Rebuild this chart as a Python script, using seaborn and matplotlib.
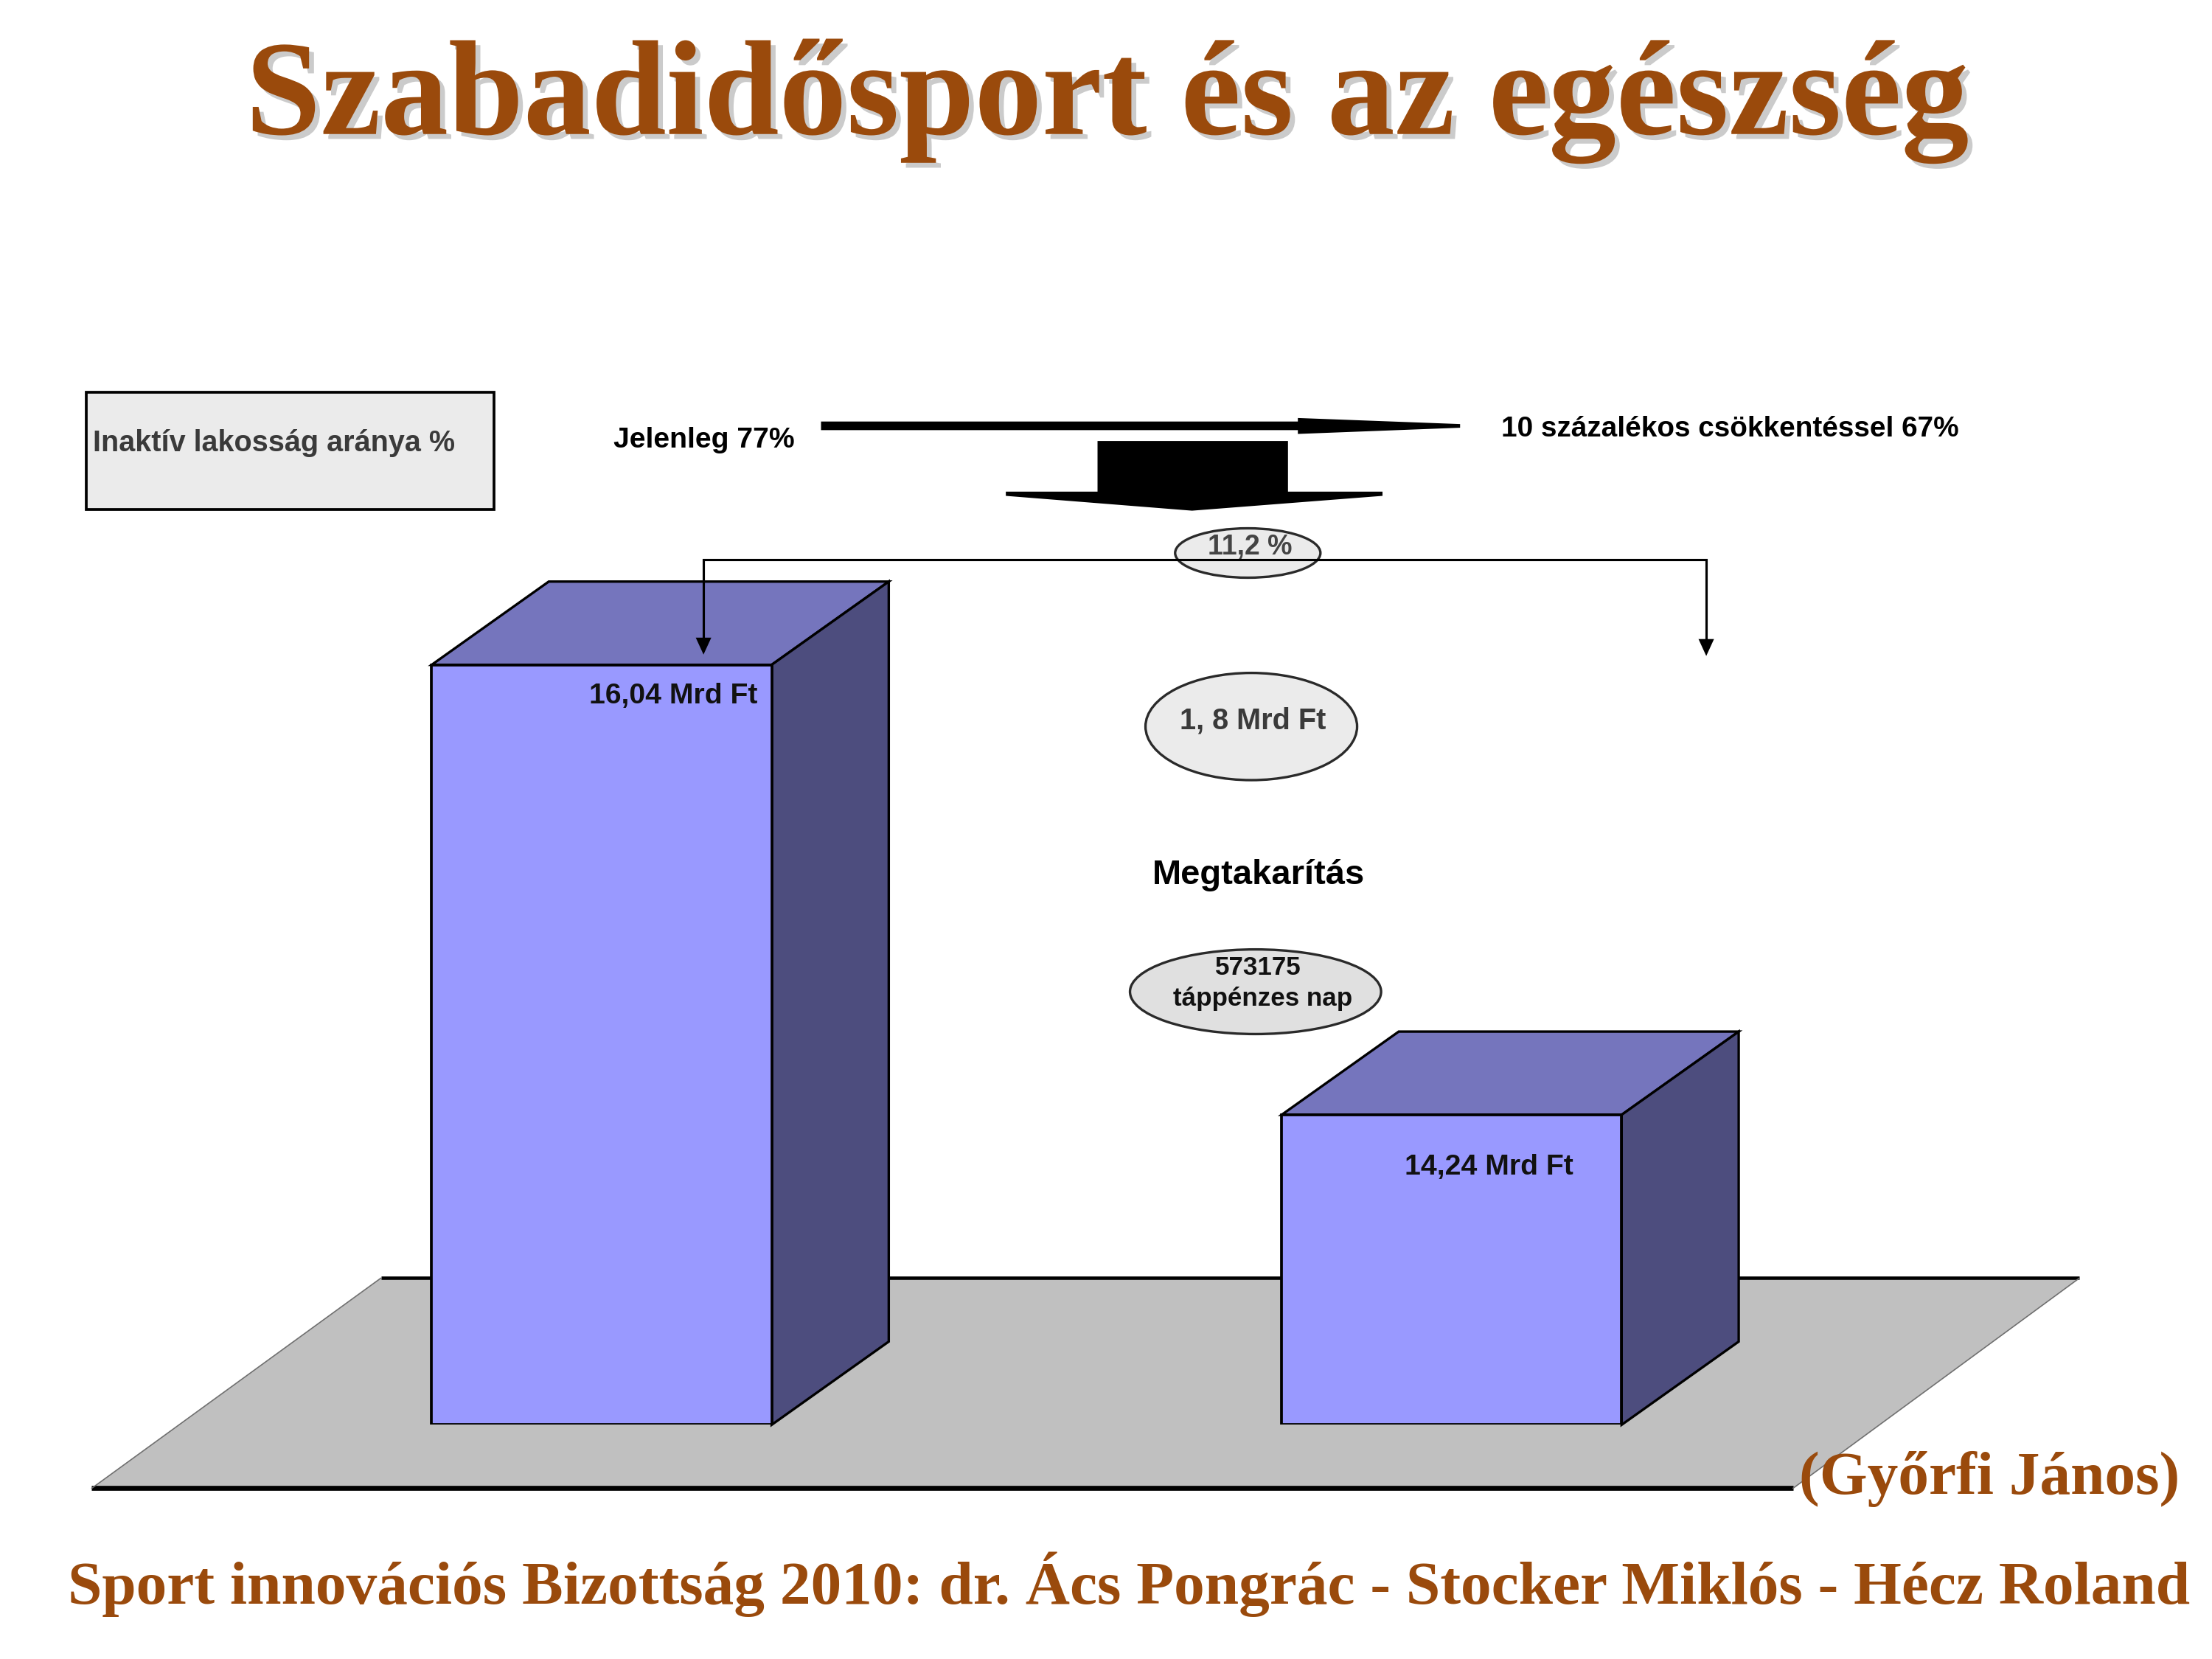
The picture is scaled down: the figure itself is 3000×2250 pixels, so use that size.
import matplotlib
matplotlib.use("Agg")
import matplotlib.pyplot as plt
import matplotlib.patches as mpatches
import matplotlib.patheffects as pe
import pandas as pd
import seaborn as sns

# ---- data -------------------------------------------------------------
scenarios = ["Jelenleg", "10 százalékos csökkentéssel"]
costs_mrd_ft = [16.04, 14.24]          # health cost, billion HUF
inactive_share = [77, 67]              # share of inactive population, %
saving_mrd_ft = 1.8
saving_pct = 11.2
sick_leave_days = 573175

title_text = "Szabadidősport és az egészség"
legend_text = "Inaktív lakosság aránya %"
saving_text = "Megtakarítás"
sick_leave_text = "táppénzes nap"
author_text = "(Győrfi János)"
footer_text = ("Sport innovációs Bizottság 2010: dr. Ács Pongrác - "
               "Stocker Miklós - Hécz Roland")

# ---- style ------------------------------------------------------------
sns.set_theme(style="white")
plt.rcParams["font.family"] = ["Liberation Sans", "DejaVu Sans"]
SERIF = ["Liberation Serif", "DejaVu Serif"]
BROWN = "#9A4A0C"
FRONT, TOP, SIDE = "#9999FF", "#7575BD", "#4D4D7E"
FLOOR = "#C0C0C0"

W, H = 1568, 1176                      # canvas units
fig = plt.figure(figsize=(10, 7.5), dpi=300)


def canvas_axes(z):
    ax = fig.add_axes([0, 0, 1, 1], zorder=z)
    ax.set_xlim(0, W)
    ax.set_ylim(H, 0)
    ax.axis("off")
    ax.patch.set_visible(False)
    return ax


ax_back = canvas_axes(0)

# chart axes: value axis starts at 13 Mrd Ft
AXIS_FLOOR, AXIS_TOP = 13.0, 16.5
px_per_unit = 177.22
base_y = 1010.0
cat_left, cat_right = 125.25, 1330.25
top_y = base_y - (AXIS_TOP - AXIS_FLOOR) * px_per_unit
ax_chart = fig.add_axes([cat_left / W, 1 - base_y / H,
                         (cat_right - cat_left) / W, (base_y - top_y) / H],
                        zorder=1)
ax_front = canvas_axes(2)

# ---- floor ------------------------------------------------------------
floor = [(65, 1055), (1271, 1055), (1474, 906), (270, 906)]
ax_back.add_patch(mpatches.Polygon(floor, closed=True, fc=FLOOR, ec="none"))
ax_back.plot([65, 1271], [1055, 1055], color="black", lw=1.6,
             solid_capstyle="butt")
ax_back.plot([270, 1474], [906, 906], color="black", lw=1.1,
             solid_capstyle="butt")
ax_back.plot([65, 270], [1055, 906], color="#707070", lw=0.4)
ax_back.plot([1271, 1474], [1055, 906], color="#707070", lw=0.4)

# ---- bars -------------------------------------------------------------
df = pd.DataFrame({"scenario": scenarios, "cost": costs_mrd_ft})
sns.barplot(data=df, x="scenario", y="cost", ax=ax_chart, color=FRONT,
            saturation=1, width=0.4, edgecolor="black", linewidth=0.9,
            errorbar=None, zorder=2)
ax_chart.set_xlim(-0.5, len(scenarios) - 0.5)
ax_chart.set_ylim(AXIS_FLOOR, AXIS_TOP)
ax_chart.axis("off")
ax_chart.patch.set_visible(False)

to_disp = ax_chart.transData
to_canvas = ax_front.transData.inverted()


def canvas_pt(x, y):
    return to_canvas.transform(to_disp.transform((x, y)))


DX, DY = 83, -59
label_offsets = [(10, 22), (34, 37)]
for bar, val, (ox, oy) in zip(ax_chart.patches, costs_mrd_ft, label_offsets):
    bar.set_y(AXIS_FLOOR)
    bar.set_height(val - AXIS_FLOOR)
    x0, x1 = bar.get_x(), bar.get_x() + bar.get_width()
    X0, Yt = canvas_pt(x0, val)
    X1, Yb = canvas_pt(x1, AXIS_FLOOR)
    top = [(X0, Yt), (X1, Yt), (X1 + DX, Yt + DY), (X0 + DX, Yt + DY)]
    side = [(X1, Yt), (X1 + DX, Yt + DY), (X1 + DX, Yb + DY), (X1, Yb)]
    for poly, col in ((top, TOP), (side, SIDE)):
        ax_chart.add_patch(mpatches.Polygon(
            poly, closed=True, fc=col, ec="black", lw=0.8,
            transform=ax_back.transData, clip_on=False, zorder=1))
    ax_front.text(X1 - ox, Yt + oy, f"{val:.2f}".replace(".", ",") + " Mrd Ft",
                  ha="right", va="center", fontsize=9.4, fontweight="bold",
                  color="#111111")

# ---- legend box and arrows -------------------------------------------
ax_front.add_patch(mpatches.Rectangle((61, 278), 289, 83, fc="#EBEBEB",
                                      ec="black", lw=0.9))
ax_front.text(66, 314, legend_text, ha="left", va="center", fontsize=9.5,
              fontweight="bold", color="#3A3A3A")
ax_front.text(435, 312, f"{scenarios[0]} {inactive_share[0]}%", ha="left",
              va="center", fontsize=9.4, fontweight="bold", color="black")
ax_front.text(1064, 304, f"{scenarios[1]} {inactive_share[1]}%", ha="left",
              va="center", fontsize=9.3, fontweight="bold", color="black")

h_arrow = [(582, 298.8), (920, 298.8), (920, 296.3), (1035, 300.6),
           (1035, 303.2), (920, 307.6), (920, 304.9), (582, 304.9)]
ax_front.add_patch(mpatches.Polygon(h_arrow, closed=True, fc="black",
                                    ec="none"))

down_arrow = [(778, 312.6), (913, 312.6), (913, 348.5), (980, 348.5),
              (980, 351.5), (845, 362), (713, 351.5), (713, 348.5),
              (778, 348.5)]
ax_front.add_patch(mpatches.Polygon(down_arrow, closed=True, fc="black",
                                    ec="none"))

# ---- savings ellipses -------------------------------------------------
ax_front.add_patch(mpatches.Ellipse((884.5, 392), 103, 35, fc="#EBEBEB",
                                    ec="#2A2A2A", lw=0.8, zorder=1))
ax_front.text(886, 388, f"{saving_pct:.1f}".replace(".", ",") + " %",
              ha="center", va="center", fontsize=9.0, fontweight="bold",
              color="#444444", zorder=2)

# connector from the ratio to both bars
ax_front.plot([498.7, 498.7, 1209.5, 1209.5], [452, 396.6, 396.6, 453],
              color="black", lw=0.75, zorder=3, solid_joinstyle="miter")
for tip_x, tip_y in ((498.7, 464), (1209.5, 465)):
    ax_front.add_patch(mpatches.Polygon(
        [(tip_x - 5.5, tip_y - 12), (tip_x + 5.5, tip_y - 12), (tip_x, tip_y)],
        closed=True, fc="black", ec="none", zorder=3))

ax_front.add_patch(mpatches.Ellipse((887, 515), 150, 76, fc="#EBEBEB",
                                    ec="#2A2A2A", lw=0.8))
ax_front.text(888, 511, f"{saving_mrd_ft:.1f}".replace(".", ", ") + " Mrd Ft",
              ha="center", va="center", fontsize=9.5, fontweight="bold",
              color="#3A3A3A")

ax_front.text(892, 620.5, saving_text, ha="center", va="center",
              fontsize=11.3, fontweight="bold", color="black")

ax_front.add_patch(mpatches.Ellipse((890, 703), 178, 60, fc="#E0E0E0",
                                    ec="#2A2A2A", lw=0.8))
ax_front.text(892, 686, f"{sick_leave_days}", ha="center", va="center",
              fontsize=8.4, fontweight="bold", color="#111111")
ax_front.text(895, 708, sick_leave_text, ha="center", va="center",
              fontsize=8.4, fontweight="bold", color="#111111")

# ---- titles -----------------------------------------------------------
shadow = [pe.SimplePatchShadow(offset=(1.6, -1.6), shadow_rgbFace="#8C8C8C",
                               alpha=0.45), pe.Normal()]
ax_front.text(785, 95, title_text, ha="center", va="baseline",
              family=SERIF, fontweight="bold", fontsize=44.0, color=BROWN,
              path_effects=shadow)
ax_front.text(1545, 1059, author_text, ha="right", va="baseline",
              family=SERIF, fontweight="bold", fontsize=20, color=BROWN)
ax_front.text(800, 1137, footer_text, ha="center", va="baseline",
              family=SERIF, fontweight="bold", fontsize=20, color=BROWN)

fig.savefig("out.png", dpi=300, facecolor="white")
